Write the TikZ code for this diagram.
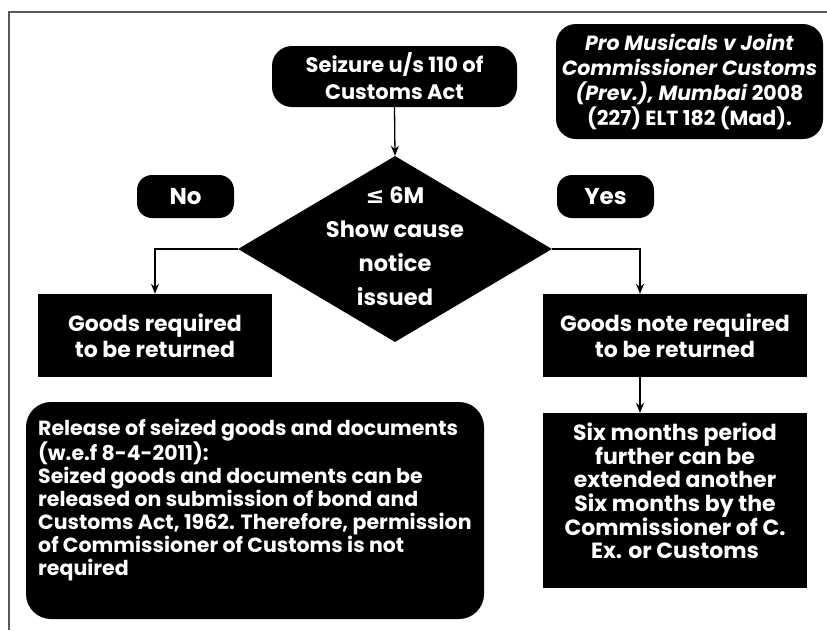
\documentclass[tikz,border=0pt]{standalone}
\usepackage{fontspec}
\setmainfont{Poppins}
\newfontfamily\symf{DejaVu Sans}
\usetikzlibrary{shapes.geometric,arrows.meta}
\tikzset{
  blk/.style={fill=black, text=white, align=center, inner sep=0pt},
  rbox/.style={blk, rounded corners=#1},
  sqbox/.style={blk},
  txt/.style={text=white, inner sep=0pt},
  arr/.style={-{Stealth[length=10pt,width=8pt]}, line width=1.3pt},
  frame/.style={draw=black!65, line width=1.6pt}
}
\newcommand{\fs}[2]{\fontsize{#1}{#2}\selectfont\bfseries}
\begin{document}
\begin{tikzpicture}[x=1pt,y=-1pt]
\useasboundingbox (0,0) rectangle (827,630);
\draw[frame] (9,630) -- (9,12) -- (827,12);

\node[rbox=20pt, minimum width=245pt, minimum height=61pt, font=\fs{21}{27}] (seize) at (394.5,76.5) {Seizure u/s 110 of\\Customs Act};
\node[rbox=20pt, minimum width=267pt, minimum height=115pt, font=\fs{20.5}{25}] (pro) at (689.5,81.5)
  {\textit{Pro Musicals v Joint}\\\textit{Commissioner Customs}\\\textit{(Prev.), Mumbai} 2008\\(227) ELT 182 (Mad).};
\node[rbox=15pt, minimum width=97pt, minimum height=43pt, font=\fs{23}{25}] (no) at (185.5,196.5) {No};
\node[rbox=15pt, minimum width=97pt, minimum height=43pt, font=\fs{23}{25}] (yes) at (605.5,196.5) {Yes};

\node[diamond, fill=black, minimum width=314pt, minimum height=186pt, inner sep=0pt] (dia) at (395,249) {};
\node[txt, align=center, font=\fs{22.5}{34}] (diatext) at (395,246) {{\symf\bfseries ≤} 6M\\Show cause\\notice\\issued};

\node[sqbox, minimum width=234pt, minimum height=83pt, font=\fs{22}{26}] (lgoods) at (155,335.5) {Goods required\\to be returned};
\node[sqbox, minimum width=264pt, minimum height=83pt, font=\fs{22}{26}] (rgoods) at (675,335.5) {Goods note required\\to be returned};
\node[sqbox, minimum width=264pt, minimum height=175pt] (six) at (675,500.5) {};
\node[txt, align=center, font=\fs{22}{23.6}] (sixtext) at (675,491) {Six months period\\further can be\\extended another\\Six months by the\\Commissioner of C.\\Ex. or Customs};

\node[rbox=25pt, minimum width=458pt, minimum height=217pt] (release) at (255,510.5) {};
\node[txt, align=left, anchor=west, font=\fs{20.5}{23}] (reltext) at (38,500) {Release of seized goods and documents\\(w.e.f 8-4-2011):\\Seized goods and documents can be\\released on submission of bond and\\Customs Act, 1962. Therefore, permission\\of Commissioner of Customs is not\\required};

\draw[arr] (seize.south) -- (dia.north);
\draw[arr] (dia.west) -| (lgoods.north);
\draw[arr] (dia.east) -| ([xshift=-35pt]rgoods.north);
\draw[arr] ([xshift=-35pt]rgoods.south) -- ([xshift=-35pt]six.north);
\end{tikzpicture}
\end{document}
